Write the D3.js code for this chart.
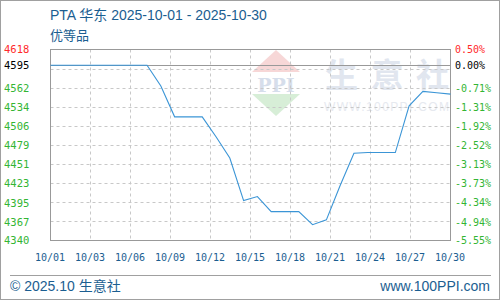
<!DOCTYPE html>
<html>
<head>
<meta charset="utf-8">
<script src="https://cdn.jsdelivr.net/npm/d3@7"></script>
<style>
body { margin: 0; background: #fff; }
svg { display: block; }
.mono { font-family: "DejaVu Sans Mono", monospace; font-size: 10px; }
</style>
</head>
<body>
<svg id="chart" width="500" height="300"></svg>
<script>
// data
var dates = ['2025-10-01','2025-10-02','2025-10-03','2025-10-04','2025-10-05','2025-10-06',
    '2025-10-07','2025-10-08','2025-10-09','2025-10-10','2025-10-11','2025-10-12','2025-10-13',
    '2025-10-14','2025-10-15','2025-10-16','2025-10-17','2025-10-18','2025-10-19','2025-10-20',
    '2025-10-21','2025-10-22','2025-10-23','2025-10-24','2025-10-25','2025-10-26','2025-10-27',
    '2025-10-28','2025-10-29','2025-10-30'];
var prices = [4595,4595,4595,4595,4595,4595,4595,4595,4565,4520,4520,4520,4491,
    4460,4398,4404,4382,4382,4382,4363,4370,4420,4467,4468,4468,4468,4536,
    4557,4555,4553];
var basePrice = 4595;
var yTicks = [4618,4595,4562,4534,4506,4479,4451,4423,4395,4367,4340];
var pctLabels = ['0.50%','0.00%','-0.71%','-1.31%','-1.92%','-2.52%','-3.13%','-3.73%','-4.34%','-4.94%','-5.55%'];
var xTickLabels = ['10/01','10/03','10/06','10/09','10/12','10/15','10/18','10/21','10/24','10/27','10/30'];

const L=50.5, R=450.5, T=49.5, B=240.5;
const BLUE='#1b5e91', RED='#ff2a2a', GREEN='#33b533';

var svg = d3.select('#chart');
var parse = d3.timeParse('%Y-%m-%d');

var x = d3.scaleTime().domain([parse(dates[0]), parse(dates[dates.length-1])]).range([L, R]);
var y = d3.scaleLinear().domain([4340, 4618]).range([B, T]);
var xl = d3.scalePoint().domain(xTickLabels).range([L, R]);

// outer frame + footer rule
svg.append('rect').attr('x', .5).attr('y', .5).attr('width', 499).attr('height', 299)
    .attr('fill', 'none').attr('stroke', '#a0a0a0');
svg.append('line').attr('x1', 10).attr('x2', 491).attr('y1', 275.5).attr('y2', 275.5)
    .attr('stroke', '#a0a0a0');

// titles
svg.append('text').attr('x', 50).attr('y', 20)
    .attr('font-family', '"Liberation Sans","Noto Sans CJK SC",sans-serif').attr('font-size', 14)
    .attr('fill', BLUE).text('PTA 华东 2025-10-01 - 2025-10-30');
svg.append('text').attr('x', 50).attr('y', 40)
    .attr('font-family', '"Noto Sans CJK SC",sans-serif').attr('font-size', 13)
    .attr('fill', BLUE).text('优等品');
svg.append('text').attr('x', 10).attr('y', 291)
    .attr('font-family', '"Liberation Sans","Noto Sans CJK SC",sans-serif').attr('font-size', 14)
    .attr('fill', BLUE).text('© 2025.10 生意社');
svg.append('text').attr('x', 490).attr('y', 291).attr('text-anchor', 'end')
    .attr('font-family', '"Liberation Sans",sans-serif').attr('font-size', 14)
    .attr('fill', BLUE).text('www.100PPI.com');

// watermark
var wm = svg.append('g');
wm.append('polygon').attr('points', '276,50 300,72 252,72').attr('fill', '#f7d7d7');
wm.append('polygon').attr('points', '252,94 300,94 276,116').attr('fill', '#d7eed7');
wm.append('text').attr('x', 276).attr('y', 92).attr('text-anchor', 'middle')
    .attr('font-family', '"DejaVu Serif",serif').attr('font-weight', 'bold').attr('font-size', 19)
    .attr('fill', '#d6deeb').text('PPI');
wm.append('text').attr('x', 325).attr('y', 87).attr('textLength', 124)
    .attr('font-family', '"Noto Sans CJK SC",sans-serif').attr('font-weight', 'bold').attr('font-size', 33)
    .attr('fill', '#e1e6ef').text('生意社');
wm.append('text').attr('x', 324).attr('y', 111).attr('textLength', 125)
    .attr('font-family', '"Liberation Sans",sans-serif').attr('font-size', 12)
    .attr('fill', '#e6e9ef').text('WWW.100PPI.COM');

// grid
var gridY = d3.range(11).map(i => 4340 + i*(4618-4340)/10);
svg.append('g').selectAll('line').data(gridY.slice(1, 10)).join('line')
    .attr('x1', L).attr('x2', R)
    .attr('y1', d => Math.round(y(d)) + .5).attr('y2', d => Math.round(y(d)) + .5)
    .attr('stroke', '#c8c8c8').attr('stroke-dasharray', '3,3');
svg.append('g').selectAll('line').data(xTickLabels.slice(1, -1)).join('line')
    .attr('x1', d => xl(d)).attr('x2', d => xl(d))
    .attr('y1', T).attr('y2', B)
    .attr('stroke', '#c8c8c8').attr('stroke-dasharray', '3,3');

svg.append('rect').attr('x', L).attr('y', T).attr('width', R-L).attr('height', B-T)
    .attr('fill', 'none').attr('stroke', '#999');
svg.append('line').attr('x1', L).attr('x2', R)
    .attr('y1', Math.round(y(basePrice)) + .5).attr('y2', Math.round(y(basePrice)) + .5)
    .attr('stroke', '#999');

// price line
var line = d3.line()
    .x((d, i) => x(parse(dates[i])))
    .y(d => y(d));
svg.append('path').datum(prices)
    .attr('d', line)
    .attr('fill', 'none').attr('stroke', '#3b95d6').attr('stroke-width', 1.1);

// axes
var yLeft = svg.append('g').attr('class', 'mono').attr('transform', 'translate(4,0)')
    .call(d3.axisRight(y).tickValues(yTicks).tickSize(0).tickPadding(0).tickFormat(d3.format('d')));
yLeft.select('.domain').remove();
yLeft.selectAll('text').attr('font-size', 10.5).attr('font-family', null)
    .attr('fill', (d, i) => i == 0 ? RED : i == 1 ? '#000' : GREEN);

var yRight = svg.append('g').attr('class', 'mono').attr('transform', 'translate(455,0)')
    .call(d3.axisRight(y).tickValues(yTicks).tickSize(0).tickPadding(0)
        .tickFormat((d, i) => pctLabels[i]));
yRight.select('.domain').remove();
yRight.selectAll('text').attr('font-family', null).attr('font-size', null)
    .attr('fill', (d, i) => i == 0 ? RED : i == 1 ? '#000' : GREEN);

var xAxis = svg.append('g').attr('class', 'mono').attr('transform', 'translate(-1,' + B + ')')
    .call(d3.axisBottom(xl).tickSize(0).tickPadding(0));
xAxis.select('.domain').remove();
xAxis.selectAll('text').attr('font-family', null).attr('font-size', null)
    .attr('y', 20).attr('dy', null).attr('fill', BLUE);
</script>
</body>
</html>
